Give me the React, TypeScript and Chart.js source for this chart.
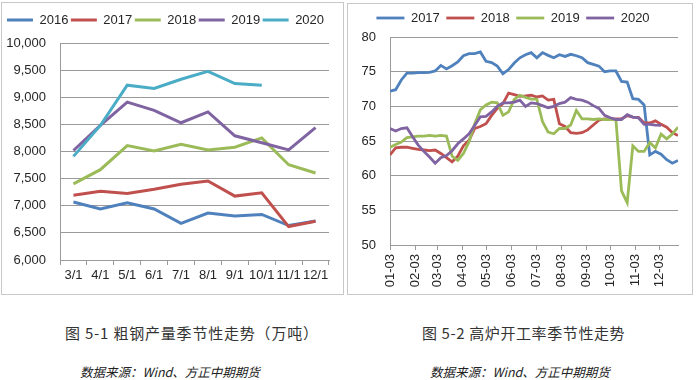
import React, { useEffect, useRef } from 'react';
import { Chart, registerables } from 'chart.js';

Chart.register(...registerables);

// ---------- Left chart: 粗钢产量 (万吨) ----------
const monthCategories = ['3/1', '4/1', '5/1', '6/1', '7/1', '8/1', '9/1', '10/1', '11/1', '12/1'];
const steel2016 = [7070, 6940, 7055, 6940, 6675, 6865, 6810, 6840, 6635, 6720];
const steel2017 = [7195, 7268, 7226, 7305, 7396, 7457, 7178, 7238, 6616, 6713];
const steel2018 = [7402, 7665, 8110, 8012, 8134, 8030, 8079, 8250, 7756, 7604];
const steel2019 = [8018, 8480, 8909, 8759, 8530, 8729, 8290, 8160, 8030, 8440];
const steel2020 = [7910, 8480, 9222, 9163, 9331, 9476, 9253, 9222, null, null];
const steelSeriesNames = ['2016', '2017', '2018', '2019', '2020'];

// ---------- Right chart: 高炉开工率 (%) weekly ----------
const weekDays = Array.from({ length: 52 }, (_, i) => i * 7); // days after 01-03
const monthTickDays = [0, 31, 59, 90, 120, 151, 181, 212, 243, 273, 304, 334];
const monthTickLabels = ['01-03', '02-03', '03-03', '04-03', '05-03', '06-03', '07-03', '08-03', '09-03', '10-03', '11-03', '12-03'];
const rate2017 = [
  72.2, 72.4, 73.8, 74.8, 74.8, 74.85, 74.85, 74.9, 75.1, 75.9, 75.4, 75.85, 76.4,
  77.3, 77.6, 77.6, 77.85, 76.5, 76.3, 75.8, 74.7, 75.3, 76.25, 77.0, 77.45, 77.75,
  77.0, 77.75, 77.35, 77.0, 77.45, 77.2, 77.5, 77.3, 77.0, 76.3, 76.05, 75.8, 75.0,
  75.1, 75.1, 73.6, 73.5, 71.1, 71.0, 70.2, 63.0, 63.5, 63.1, 62.3, 61.8, 62.2,
];
const rate2018 = [
  63.0, 64.0, 64.1, 64.1, 63.95, 63.8, 63.7, 63.6, 63.7, 63.2, 62.6, 62.0, 62.8,
  64.3, 65.1, 66.8, 67.1, 67.5, 68.7, 69.7, 70.4, 71.9, 71.7, 71.45, 71.5, 71.6,
  71.35, 71.5, 70.9, 71.0, 67.5, 67.1, 66.2, 66.1, 66.2, 66.6, 67.3, 68.0, 68.2,
  68.2, 68.2, 68.2, 68.65, 68.45, 68.4, 67.6, 67.6, 67.9, 67.4, 67.0, 66.2, 65.8,
];
const rate2019 = [
  64.1, 64.5, 64.85, 65.5, 65.6, 65.7, 65.7, 65.8, 65.7, 65.8, 65.7, 62.8, 62.2,
  63.2, 64.9, 67.5, 69.5, 70.2, 70.6, 70.5, 68.7, 69.2, 71.0, 71.6, 71.3, 71.05,
  71.05, 67.8, 66.3, 66.05, 66.8, 66.8, 67.3, 69.4, 68.2, 68.2, 68.1, 68.2, 68.1,
  68.1, 68.1, 57.8, 56.1, 64.3, 63.5, 63.5, 64.8, 64.0, 66.0, 65.3, 66.0, 67.0,
];
const rate2020 = [
  66.8, 66.45, 66.8, 66.9, 65.6, 64.4, 63.5, 62.7, 61.8, 62.6, 62.9, 63.6, 64.6,
  65.3, 66.05, 67.25, 68.5, 68.55, 69.2, 70.0, 70.5, 70.5, 70.6, 70.9, 70.0, 70.5,
  70.4, 70.1, 69.8, 70.0, 70.4, 70.6, 71.25, 71.0, 70.9, 70.6, 70.1, 69.7, 68.7,
  68.35, 68.1, 68.1, 68.8, 68.45, 68.35, 67.4, 67.4, 67.3, 67.25, null, null, null,
];
const rateSeriesNames = ['2017', '2018', '2019', '2020'];

const BLUE = '#4F81BD';
const RED = '#C0504D';
const GREEN = '#9BBB59';
const PURPLE = '#8064A2';
const CYAN = '#4BACC6';

const FONT = "'Liberation Sans', Arial, sans-serif";
const GRID = '#9A9A9A';
const TEXT = '#262626';

function legendGap(extra: number) {
  return {
    id: 'legendGap',
    beforeLayout(chart: any) {
      const legend = chart.legend;
      if (!legend || legend.__gapPatched) return;
      const orig = legend.fit;
      legend.fit = function () {
        orig.call(this);
        this.height += extra;
      };
      legend.__gapPatched = true;
    },
  };
}

function legendOptions(padding: number, lineWidth: number) {
  return {
    display: true,
    position: 'top' as const,
    labels: {
      usePointStyle: true,
      pointStyle: 'line',
      pointStyleWidth: lineWidth,
      padding,
      color: TEXT,
      font: { family: FONT, size: 13 },
      sort: (a: any, b: any) => a.datasetIndex - b.datasetIndex,
    },
  };
}

function SteelChart() {
  const ref = useRef<HTMLCanvasElement>(null);
  useEffect(() => {
    if (!ref.current) return;
    const series = [steel2016, steel2017, steel2018, steel2019, steel2020];
    const colors = [BLUE, RED, GREEN, PURPLE, CYAN];
    const chart = new Chart(ref.current, {
      type: 'line',
      data: {
        labels: monthCategories,
        datasets: series.map((d, i) => ({
          label: steelSeriesNames[i],
          data: d,
          borderColor: colors[i],
          backgroundColor: colors[i],
          borderWidth: 3,
          pointRadius: 0,
          tension: 0,
          order: series.length - i,
        })),
      },
      options: {
        responsive: false,
        maintainAspectRatio: false,
        animation: false,
        layout: { padding: { top: 8, left: 0, right: 14, bottom: 0 } },
        plugins: {
          legend: legendOptions(2.5, 26),
          tooltip: { enabled: false },
        },
        scales: {
          x: {
            type: 'category',
            offset: true,
            grid: { offset: true, drawOnChartArea: false, drawTicks: true, tickLength: 5, color: GRID },
            border: { color: GRID },
            ticks: { autoSkip: false, maxRotation: 0, minRotation: 0, padding: 3, color: TEXT, font: { family: FONT, size: 13 } },
            afterFit: (s: any) => { s.height = 34; },
          },
          y: {
            min: 6000,
            max: 10000,
            ticks: {
              stepSize: 500,
              padding: 14,
              color: TEXT,
              font: { family: FONT, size: 13 },
              callback: (v: any) => Number(v).toLocaleString('en-US'),
            },
            grid: { color: GRID, drawTicks: false },
            border: { color: GRID },
            afterFit: (s: any) => { s.width = 58; },
          },
        },
      },
      plugins: [legendGap(6.5)],
    } as any);
    return () => chart.destroy();
  }, []);
  return <canvas ref={ref} width={341} height={291} style={{ display: 'block', width: 341, height: 291 }} />;
}

function RateChart() {
  const ref = useRef<HTMLCanvasElement>(null);
  useEffect(() => {
    if (!ref.current) return;
    const series = [rate2017, rate2018, rate2019, rate2020];
    const colors = [BLUE, RED, GREEN, PURPLE];
    const chart = new Chart(ref.current, {
      type: 'line',
      data: {
        datasets: series.map((d, i) => ({
          label: rateSeriesNames[i],
          data: weekDays.map((x, j) => ({ x, y: d[j] })),
          borderColor: colors[i],
          backgroundColor: colors[i],
          borderWidth: 2.8,
          pointRadius: 0,
          tension: 0,
          order: series.length - i,
        })),
      },
      options: {
        responsive: false,
        maintainAspectRatio: false,
        animation: false,
        layout: { padding: { top: 1, left: 0, right: 14, bottom: 0 } },
        plugins: {
          legend: legendOptions(6.5, 28),
          tooltip: { enabled: false },
        },
        scales: {
          x: {
            type: 'linear',
            min: 0,
            max: weekDays[weekDays.length - 1],
            afterBuildTicks: (s: any) => {
              s.ticks = monthTickDays.map((v) => ({ value: v }));
            },
            grid: { drawOnChartArea: false, drawTicks: true, tickLength: 5, color: GRID },
            border: { color: GRID },
            ticks: {
              autoSkip: false,
              minRotation: 90,
              maxRotation: 90,
              padding: 4,
              color: TEXT,
              font: { family: FONT, size: 13 },
              callback: (v: any) => {
                const k = monthTickDays.indexOf(Number(v));
                return k >= 0 ? monthTickLabels[k] : '';
              },
            },
            afterFit: (s: any) => { s.height = 49; },
          },
          y: {
            min: 50,
            max: 80,
            ticks: { stepSize: 5, padding: 14, color: TEXT, font: { family: FONT, size: 13 } },
            grid: { color: GRID, drawTicks: false },
            border: { color: GRID },
            afterFit: (s: any) => { s.width = 42; },
          },
        },
      },
      plugins: [legendGap(2.5)],
    } as any);
    return () => chart.destroy();
  }, []);
  return <canvas ref={ref} width={344} height={290} style={{ display: 'block', width: 344, height: 290 }} />;
}

const CJK = "'Noto Sans CJK SC', 'Noto Sans CJK JP', sans-serif";

export default function App() {
  return (
    <div style={{ position: 'absolute', left: 0, top: 0, width: 700, height: 380, background: '#fff', overflow: 'hidden' }}>
      <div style={{ position: 'absolute', left: 1, top: 2, width: 341, height: 291, border: '1px solid #C8C8C8' }}>
        <SteelChart />
      </div>
      <div style={{ position: 'absolute', left: 347, top: 3, width: 344, height: 290, border: '1px solid #C8C8C8' }}>
        <RateChart />
      </div>
      <div style={{ position: 'absolute', left: 65, top: 325, fontFamily: CJK, fontSize: 15, lineHeight: '16px', letterSpacing: '0.8px', color: '#333', whiteSpace: 'nowrap' }}>
        图 5-1 粗钢产量季节性走势（万吨）
      </div>
      <div style={{ position: 'absolute', left: 422, top: 325, fontFamily: CJK, fontSize: 15, lineHeight: '16px', letterSpacing: '0.6px', color: '#333', whiteSpace: 'nowrap' }}>
        图 5-2 高炉开工率季节性走势
      </div>
      <div style={{ position: 'absolute', left: 80, top: 365, fontFamily: CJK, fontSize: 12.5, lineHeight: '14px', fontStyle: 'italic', color: '#222', whiteSpace: 'nowrap' }}>
        数据来源：Wind、方正中期期货
      </div>
      <div style={{ position: 'absolute', left: 430, top: 365, fontFamily: CJK, fontSize: 12.5, lineHeight: '14px', fontStyle: 'italic', color: '#222', whiteSpace: 'nowrap' }}>
        数据来源：Wind、方正中期期货
      </div>
    </div>
  );
}
